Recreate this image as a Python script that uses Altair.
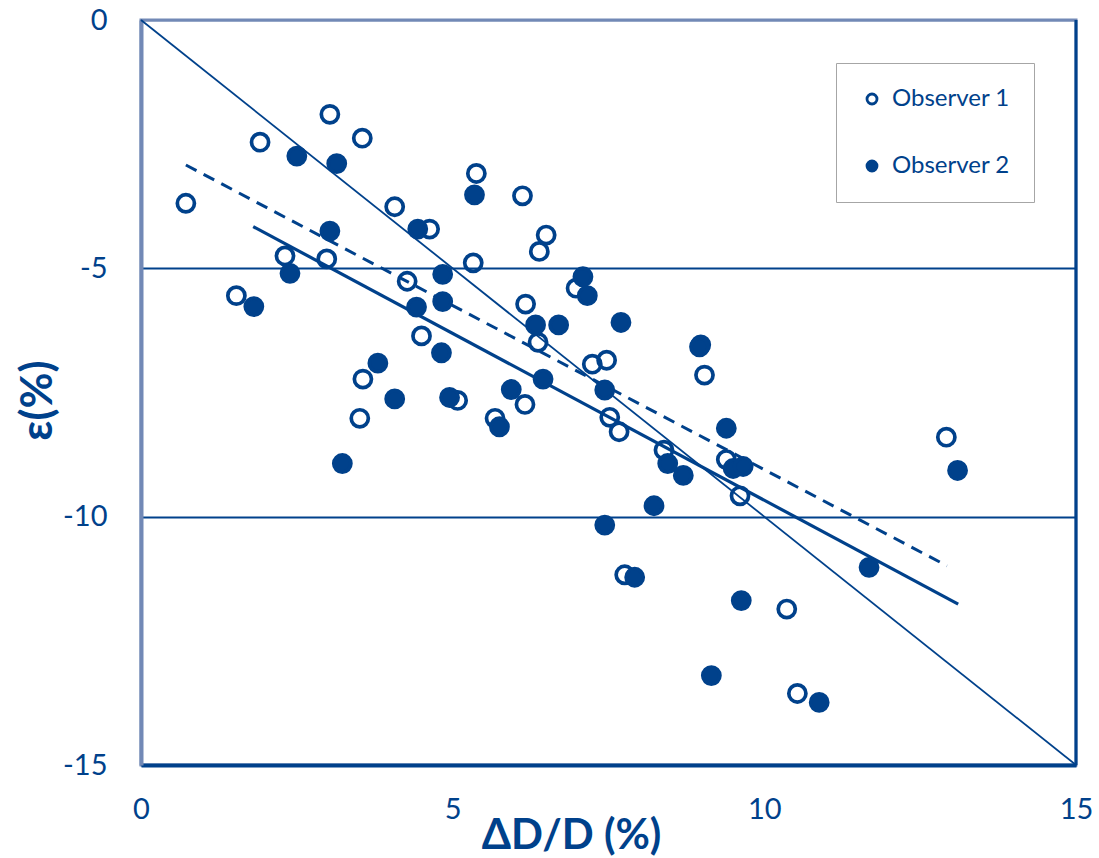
import altair as alt
import pandas as pd

DARK = "#00418B"
LIGHT = "#7289B6"

# Observer 1 (open circles)
obs1_x = [0.72, 1.91, 3.03, 3.55, 1.53, 2.31, 2.98, 4.07, 4.63, 4.27, 4.50, 3.56,
          3.51, 5.08, 5.38, 5.33, 6.12, 6.50, 6.39, 6.17, 6.37, 6.16, 5.68, 6.98,
          7.24, 7.47, 7.52, 7.67, 7.76, 8.39, 8.98, 9.04, 9.39, 9.61, 10.36, 10.53, 12.92]
obs1_y = [-3.69, -2.46, -1.90, -2.38, -5.55, -4.75, -4.81, -3.76, -4.21, -5.26, -6.36, -7.23,
          -8.02, -7.66, -3.09, -4.89, -3.54, -4.33, -4.66, -5.72, -6.49, -7.74, -8.02, -5.40,
          -6.93, -6.85, -8.00, -8.29, -11.17, -8.66, -6.54, -7.15, -8.85, -9.58, -11.86, -13.56, -8.40]

# Observer 2 (filled circles)
obs2_x = [1.81, 2.39, 2.50, 3.14, 3.03, 3.80, 3.23, 4.07, 4.44, 4.42, 4.84, 4.84,
          4.82, 4.95, 5.35, 5.75, 5.94, 6.33, 6.70, 6.45, 7.09, 7.16, 7.70, 7.44,
          7.44, 7.92, 8.23, 8.45, 8.70, 8.96, 9.15, 9.39, 9.50, 9.66, 9.63, 10.88, 11.68, 13.10]
obs2_y = [-5.77, -5.10, -2.74, -2.89, -4.25, -6.91, -8.93, -7.63, -4.21, -5.78, -5.12, -5.67,
          -6.70, -7.60, -3.52, -8.19, -7.44, -6.14, -6.14, -7.23, -5.17, -5.55, -6.09, -7.45,
          -10.17, -11.22, -9.78, -8.93, -9.17, -6.58, -13.20, -8.22, -9.03, -8.99, -11.69, -13.74, -11.02, -9.07]

# Trend lines (end points) and identity line
fit1_x = [0.72, 12.93]
fit1_y = [-2.92, -10.99]
fit2_x = [1.80, 13.11]
fit2_y = [-4.16, -11.76]
ident_x = [0, 15]
ident_y = [0, -15]

series_names = ["Observer 1", "Observer 2"]
x_ticks = [0, 5, 10, 15]
y_ticks = [-15, -10, -5, 0]

rows = []
for i, (x, y) in enumerate(zip(obs1_x, obs1_y)):
    rows.append({"x": x, "y": y, "observer": series_names[0], "ord": i})
for i, (x, y) in enumerate(zip(obs2_x, obs2_y)):
    rows.append({"x": x, "y": y, "observer": series_names[1], "ord": 100 + i})
pts = pd.DataFrame(rows)

fit1 = pd.DataFrame({"x": fit1_x, "y": fit1_y})
fit2 = pd.DataFrame({"x": fit2_x, "y": fit2_y})
ident = pd.DataFrame({"x": ident_x, "y": ident_y})

xscale = alt.Scale(domain=[0, 15], nice=False, zero=False)
yscale = alt.Scale(domain=[-15, 0], nice=False, zero=False)

x_axis = alt.Axis(
    values=x_ticks, grid=False, ticks=False, labelExpr="'' + datum.value", labelFlush=False,
    domainColor=DARK, domainWidth=4,
    labelFont="Lato", labelFontSize=29, labelColor=DARK, labelPadding=30,
    title="ΔD/D (%)", titleFont="Lato", titleFontWeight="bold", titleFontSize=42,
    titleColor=DARK, titleX=430, titleY=83, titleBaseline="alphabetic", titleAlign="center",
)
y_axis = alt.Axis(
    values=y_ticks, grid=True, ticks=False, labelExpr="'' + datum.value", labelFlush=False,
    gridColor={"condition": {"test": "datum.value === 0", "value": LIGHT}, "value": DARK},
    gridWidth=2,
    domainColor=LIGHT, domainWidth=4,
    labelFont="Lato", labelFontSize=29, labelColor=DARK, labelPadding=34,
    title="ε(%)", titleFont="Lato", titleFontWeight="bold", titleFontSize=44,
    titleColor=DARK, titleX=-81, titleY=380, titleBaseline="bottom", titleAlign="center",
)

X = alt.X("x:Q", scale=xscale, axis=x_axis)
Y = alt.Y("y:Q", scale=yscale, axis=y_axis)
Xn = alt.X("x:Q", scale=xscale)
Yn = alt.Y("y:Q", scale=yscale)

ident_line = alt.Chart(ident).mark_line(color=DARK, strokeWidth=1.8).encode(x=X, y=Y)
fit1_line = alt.Chart(fit1).mark_line(color=DARK, strokeWidth=3, strokeDash=[12, 8]).encode(x=Xn, y=Yn)
fit2_line = alt.Chart(fit2).mark_line(color=DARK, strokeWidth=3.2).encode(x=Xn, y=Yn)

right_border = alt.Chart(pd.DataFrame({"x": [15]})).mark_rule(color=DARK, strokeWidth=3).encode(
    x=alt.X("x:Q", scale=xscale), y=alt.datum(0), y2=alt.datum(-15)
)

points = alt.Chart(pts).mark_point(
    filled=True, size=293, strokeWidth=3.7, stroke=DARK, opacity=1
).encode(
    x=Xn, y=Yn,
    fill=alt.Fill(
        "observer:N",
        scale=alt.Scale(domain=series_names, range=["transparent", DARK]),
        legend=alt.Legend(
            title=None, orient="none", legendX=695, legendY=43,
            labelFont="Lato", labelFontSize=24, labelColor=DARK, labelOffset=8,
            symbolType="circle", symbolSize=100, symbolStrokeWidth=2.8, symbolStrokeColor=DARK,
            rowPadding=43, padding=24, strokeColor="#A6A6A6",
        ),
    ),
    order=alt.Order("ord:Q"),
)

chart = alt.layer(ident_line, fit1_line, fit2_line, right_border, points).properties(
    width=935, height=745,
    autosize=alt.AutoSizeParams(type="none"),
    padding={"left": 141, "top": 20, "right": 23, "bottom": 93},
    background="white",
).configure_view(stroke=LIGHT, strokeWidth=3)

chart.save("out.html", embed_options={"renderer": "svg", "actions": False})
